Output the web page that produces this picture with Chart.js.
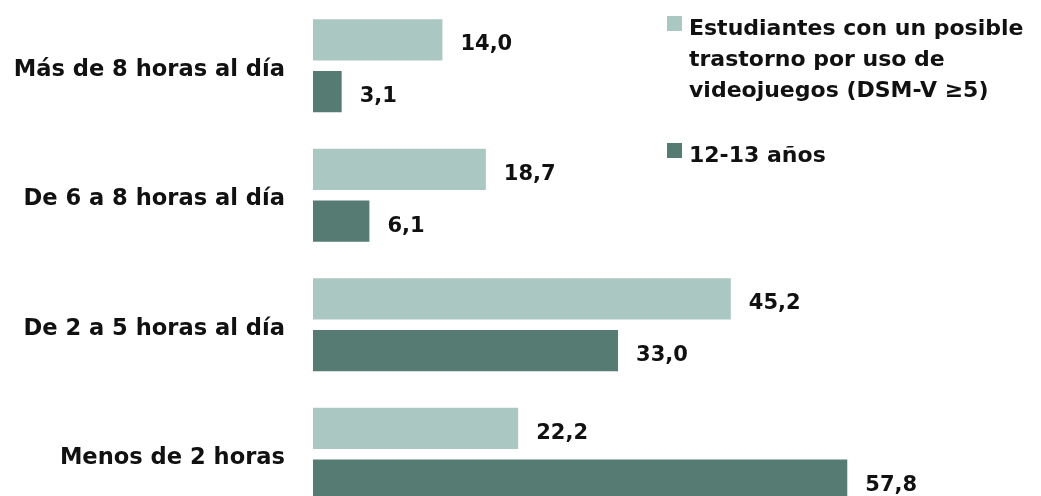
<!DOCTYPE html>
<html>
<head>
<meta charset="utf-8">
<script src="https://cdn.jsdelivr.net/npm/chart.js@4.4.0/dist/chart.umd.min.js"></script>
<style>
  html, body { margin: 0; padding: 0; background: #fff; overflow: hidden; }
  #wrap { position: relative; width: 1041px; height: 520px; }
  #legend { position: absolute; left: 667px; top: 12px; width: 374px;
            font: bold 22px "DejaVu Sans", sans-serif; color: #111; }
  .item { position: relative; padding-left: 22px; line-height: 31px; margin-bottom: 34px; }
  .box { position: absolute; left: 0; top: 4px; width: 15px; height: 15px; }
</style>
</head>
<body>
<div id="wrap">
  <canvas id="myChart" width="1041" height="520"></canvas>
  <div id="legend"></div>
</div>
<script>
var categories = ['Más de 8 horas al día', 'De 6 a 8 horas al día', 'De 2 a 5 horas al día', 'Menos de 2 horas'];
var seriesNames = ['Estudiantes con un posible trastorno por uso de videojuegos (DSM-V ≥5)', '12-13 años'];
var trastorno = [14.0, 18.7, 45.2, 22.2];
var edad1213 = [3.1, 6.1, 33.0, 57.8];
var colors = ['#abc7c1', '#567b73'];

var FONT = '"DejaVu Sans", sans-serif';

// value labels to the right of each bar
var valueLabels = {
  id: 'valueLabels',
  afterDatasetsDraw: function(chart) {
    var ctx = chart.ctx;
    ctx.save();
    ctx.font = 'bold 21px ' + FONT;
    ctx.fillStyle = '#111';
    ctx.textAlign = 'left';
    ctx.textBaseline = 'middle';
    chart.data.datasets.forEach(function(ds, i) {
      chart.getDatasetMeta(i).data.forEach(function(bar, j) {
        var txt = ds.data[j].toFixed(1).replace('.', ',');
        ctx.fillText(txt, bar.x + 18, bar.y + 5);
      });
    });
    ctx.restore();
  }
};

var ctx = document.getElementById('myChart').getContext('2d');
var chart = new Chart(ctx, {
  type: 'bar',
  data: {
    labels: categories,
    datasets: [{
      label: seriesNames[0],
      backgroundColor: colors[0],
      data: trastorno
    }, {
      label: seriesNames[1],
      backgroundColor: colors[1],
      data: edad1213
    }]
  },
  options: {
    indexAxis: 'y',
    responsive: false,
    animation: false,
    categoryPercentage: 0.8,
    barPercentage: 0.8,
    layout: { padding: { top: 1, bottom: 1, right: 7, left: 0 } },
    plugins: { legend: { display: false }, tooltip: { enabled: false } },
    scales: {
      x: { display: false, min: 0, max: 78 },
      y: {
        grid: { display: false, drawTicks: false },
        border: { display: false },
        ticks: { color: '#111', padding: 28, labelOffset: 4, font: { family: FONT, size: 22.6, weight: 'bold' } },
        afterFit: function(scale) {
          scale.width = 313;
          // tick padding would otherwise shrink the plot vertically
          scale.paddingTop = 0;
          scale.paddingBottom = 0;
        }
      }
    }
  },
  plugins: [valueLabels]
});

// html legend from the datasets
var lg = document.getElementById('legend');
chart.data.datasets.forEach(function(ds) {
  var d = document.createElement('div');
  d.className = 'item';
  var b = document.createElement('span');
  b.className = 'box';
  b.style.background = ds.backgroundColor;
  d.appendChild(b);
  d.appendChild(document.createTextNode(ds.label));
  lg.appendChild(d);
});
</script>
</body>
</html>
